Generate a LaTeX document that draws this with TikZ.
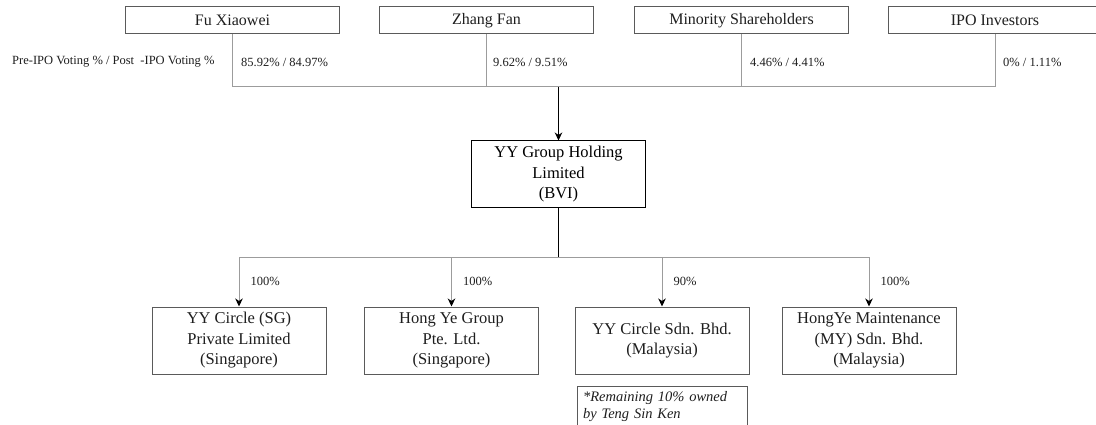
\documentclass[tikz,border=0pt]{standalone}
\usepackage{fontspec}
\setmainfont{Liberation Serif}
\usetikzlibrary{calc}
\usetikzlibrary{arrows.meta}

\definecolor{edge}{HTML}{5A5A5A}
\definecolor{lite}{HTML}{9C9C9C}
\definecolor{ink}{HTML}{1E1E1E}

\begin{document}
\begin{tikzpicture}[x=1pt,y=-1pt,
  topbox/.style={draw=edge,line width=1pt,minimum width=214pt,minimum height=27pt,
    inner sep=0pt,text=ink,font=\fontsize{16}{19}\selectfont},
  cobox/.style={draw=edge,line width=1pt,minimum width=174pt,minimum height=67pt,
    inner sep=0pt,align=center,text=ink,font=\fontsize{16.5}{20.5}\selectfont},
  vote/.style={anchor=west,inner sep=0pt,text=ink,font=\fontsize{12.5}{15}\selectfont},
  pct/.style={anchor=west,inner sep=0pt,xshift=11pt,text=ink,font=\fontsize{12.5}{15}\selectfont},
  gline/.style={draw=lite,line width=1pt},
  arr/.style={draw=lite,line width=1pt,-{Stealth[length=8pt,width=7.5pt,inset=2.5pt,black]}}]

\useasboundingbox (0,0) rectangle (1096,425);

\coordinate (top) at (558.5,87);
\coordinate (bot) at (558.5,257);

\node[topbox] (fu) at (232.5,20.5) {Fu Xiaowei};
\node[topbox] (zhang) at (486.5,20.5) {Zhang Fan};
\node[topbox] (minor) at (741.5,20.5) {Minority Shareholders};
\node[topbox] (ipo) at (995,20.5) {IPO Investors};

\node[vote] (vhead) at (12,62) {Pre-IPO Voting \% / Post\ \ -IPO Voting \%};
\node[vote] (vfu) at (241,62) {85.92\% / 84.97\%};
\node[vote] (vzhang) at (493,62) {9.62\% / 9.51\%};
\node[vote] (vminor) at (750,62) {4.46\% / 4.41\%};
\node[vote] (vipo) at (1003,62) {0\% / 1.11\%};

\draw[gline] (fu.south) |- (ipo.south |- top) -- (ipo.south);
\draw[gline] (zhang.south) -- (zhang.south |- top);
\draw[gline] (minor.south) -- (minor.south |- top);

\node[cobox,draw=black,text=black] (yy) at (558.5,174.5) {YY Group Holding\\Limited\\(BVI)};
\draw[black,line width=1pt,-{Stealth[length=8pt,width=7.5pt,inset=2.5pt]}] (top) -- (yy.north);
\draw[black,line width=1pt] (yy.south) -- (bot);

\node[cobox] (sg) at (239,340.5) {YY Circle (SG)\\Private Limited\\(Singapore)};
\node[cobox] (hy) at (451.5,340.5) {Hong Ye Group\\Pte. Ltd.\\(Singapore)};
\node[cobox] (my) at (662,340.5) {YY Circle Sdn. Bhd.\\(Malaysia)};
\node[cobox] (mt) at (869,340.5) {HongYe Maintenance\\(MY) Sdn. Bhd.\\(Malaysia)};

\draw[gline] (sg.north |- bot) -- (mt.north |- bot);
\foreach \n/\p in {sg/100, hy/100, my/90, mt/100}
  \draw[arr] (\n.north |- bot) -- (\n.north) node[pct,midway] {\p\%};

\node[draw=edge,line width=1pt,anchor=north west,minimum width=170pt,minimum height=40pt,
  text width=159pt,inner xsep=5.5pt,inner ysep=4pt,align=left,text=ink,
  font=\fontsize{14.5}{17.5}\selectfont\itshape] (note) at (577,386)
  {*Remaining 10\% owned\\by Teng Sin Ken};

\end{tikzpicture}
\end{document}
